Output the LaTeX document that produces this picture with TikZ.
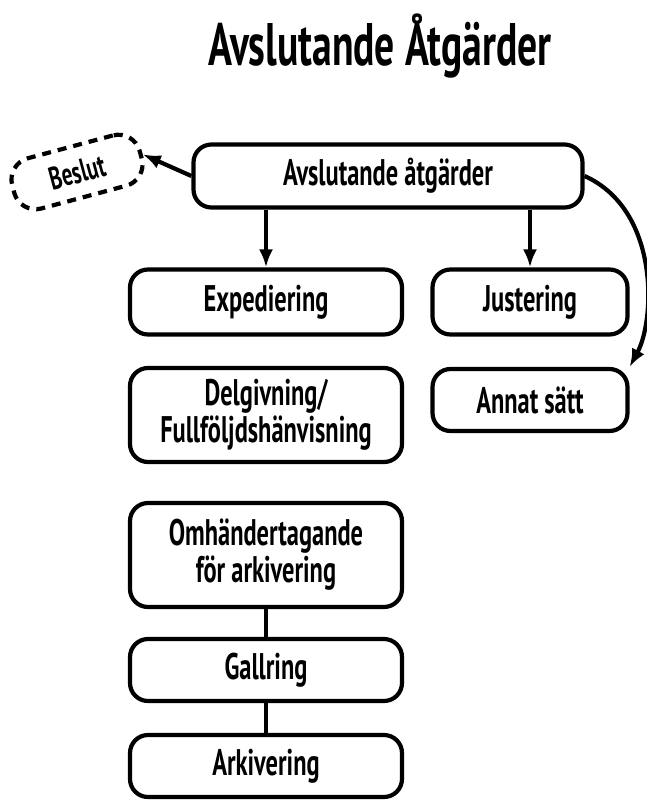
\documentclass[tikz,border=0pt]{standalone}
\usepackage{fontspec}
\setmainfont[FakeStretch=0.66]{PT Sans Bold}
\usetikzlibrary{arrows.meta}

\begin{document}
\begin{tikzpicture}[x=1pt, y=1pt,
  box/.style={draw, line width=4.2pt, rounded corners=18pt, align=center,
    font=\fontsize{37}{37}\selectfont, inner sep=0pt},
  arr/.style={line width=4.2pt, -{Latex[length=18pt,width=14pt]}}]

\useasboundingbox (0,0) rectangle (647,-801);

\node (title) at (380,-46) {\fontsize{60}{60}\selectfont Avslutande Åtgärder};

% top step
\node[box, minimum width=389pt, minimum height=63pt] (avsl) at (388,-176) {Avslutande åtgärder};

\node[box, dashed, dash pattern=on 9pt off 7pt, rounded corners=22pt, minimum width=132pt, minimum height=52pt, rotate=15,
  font=\fontsize{32}{32}\selectfont] (beslut) at (77,-172) {Beslut};
\draw[arr] (avsl.west) -- (beslut.east);

% left column
\node[box, minimum width=272pt, minimum height=65pt] (exped) at (266,-302) {Expediering};
\draw[arr] (avsl.south -| exped) -- (exped.north);

\node[box, minimum width=272pt, minimum height=94pt] (delg) at (266,-415) {Delgivning/\\Fullföljdshänvisning};

\node[box, minimum width=272pt, minimum height=104pt] (omh) at (266,-555) {Omhändertagande\\för arkivering};

\node[box, minimum width=272pt, minimum height=62pt] (gall) at (266,-670) {Gallring};
\draw[line width=4.2pt] (omh) -- (gall);

\node[box, minimum width=272pt, minimum height=62pt] (ark) at (266,-766) {Arkivering};
\draw[line width=4.2pt] (gall) -- (ark);

% right column
\node[box, minimum width=195pt, minimum height=65pt] (just) at (530,-302) {Justering};
\draw[arr] (avsl.south -| just) -- (just.north);

\node[box, minimum width=195pt, minimum height=62pt] (annat) at (530,-400) {Annat sätt};
\draw[arr] (avsl.east) .. controls (660,-210) and (655,-320) .. (annat.north east);

\end{tikzpicture}
\end{document}
